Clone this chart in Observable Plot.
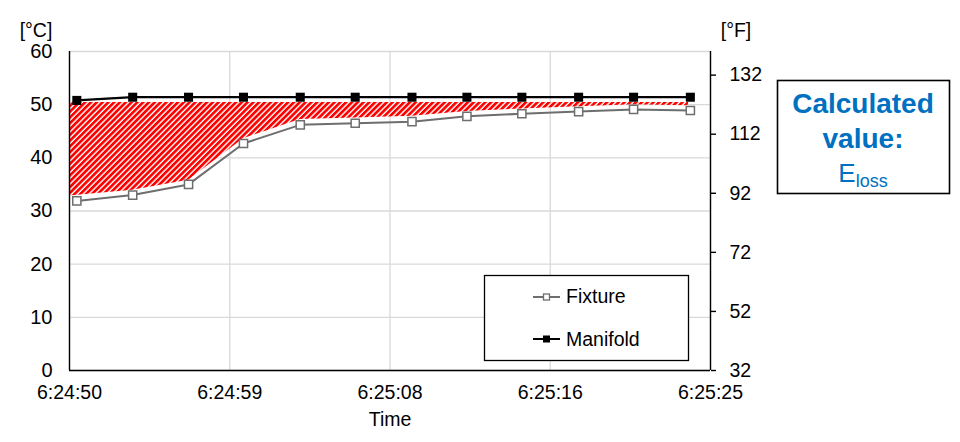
<!DOCTYPE html>
<html><head><meta charset="utf-8">
<script src="https://cdn.jsdelivr.net/npm/d3@7"></script>
<script src="https://cdn.jsdelivr.net/npm/@observablehq/plot@0.6"></script>
<style>
body{margin:0;background:#fff;font-family:"Liberation Sans",Arial,sans-serif;}
#wrap{position:relative;width:960px;height:442px;}
</style></head><body><div id="wrap"></div>
<script>
// seconds after 6:24:50
const times = [0.4, 3.45, 6.5, 9.5, 12.6, 15.6, 18.7, 21.7, 24.7, 27.8, 30.8, 33.9];
const fixture = [31.9, 33.0, 35.0, 42.7, 46.2, 46.5, 46.8, 47.8, 48.3, 48.7, 49.1, 48.9];
const manifold = [50.8, 51.4, 51.4, 51.4, 51.4, 51.4, 51.4, 51.4, 51.4, 51.4, 51.4, 51.4];
const hatchTimes = [0, 3.45, 6.5, 9.5, 12.6, 15.6, 18.7, 21.7, 24.7, 27.8, 30.8, 33.8];
const hatchLow = [32.8, 33.9, 35.8, 43.6, 47.2, 47.5, 47.8, 48.7, 49.2, 49.6, 50.0, 49.8];
const hatchHigh = [50.4, 50.4, 50.4, 50.4, 50.4, 50.4, 50.4, 50.4, 50.4, 50.4, 50.4, 50.4];
const yTicksC = [0, 10, 20, 30, 40, 50, 60];
const yTicksF = [32, 52, 72, 92, 112, 132];
const xTickPos = [0, 8.75, 17.5, 26.25, 35];
const xTickLabels = ["6:24:50", "6:24:59", "6:25:08", "6:25:16", "6:25:25"];
const seriesNames = ["Fixture", "Manifold"];

const pts = times.map((t, i) => ({t, fixture: fixture[i], manifold: manifold[i]}));
const hatch = hatchTimes.map((t, i) => ({t, lo: hatchLow[i], hi: hatchHigh[i]}));
const fToC = f => (f - 32) * 5 / 9;

const svg = Plot.plot({
  width: 960, height: 442,
  marginLeft: 69, marginRight: 250, marginTop: 51, marginBottom: 72,
  style: {fontFamily: '"Liberation Sans", Arial, sans-serif', fontSize: "19.5px", color: "#000", background: "#fff", overflow: "visible"},
  x: {domain: [0, 35]},
  y: {domain: [0, 60]},
  marks: [
    Plot.gridY(yTicksC, {stroke: "#d9d9d9", strokeOpacity: 1, strokeWidth: 1.3}),
    Plot.gridX(xTickPos, {stroke: "#d9d9d9", strokeOpacity: 1, strokeWidth: 1.3}),
    Plot.areaY(hatch, {x: "t", y1: "lo", y2: "hi", fill: "url(#hatch)"}),
    Plot.line(pts, {x: "t", y: "fixture", stroke: "#6e6e6e", strokeWidth: 2}),
    Plot.line(pts, {x: "t", y: "manifold", stroke: "#000", strokeWidth: 2.2}),
    Plot.dot(pts, {x: "t", y: "fixture", symbol: "square", r: 4.6, fill: "#fff", stroke: "#6e6e6e", strokeWidth: 1.5}),
    Plot.dot(pts, {x: "t", y: "manifold", symbol: "square", r: 5.1, fill: "#000"}),
    Plot.ruleX([0, 35], {stroke: "#000", strokeWidth: 1.4}),
    Plot.ruleY([0], {stroke: "#000", strokeWidth: 1.4}),
    Plot.axisY({anchor: "left", ticks: yTicksC, tickSize: 0, tickPadding: 17, label: null, fontSize: 20}),
    Plot.axisY({anchor: "right", ticks: yTicksF.map(fToC), tickFormat: (d, i) => String(yTicksF[i]), tickSize: 5, tickPadding: 14, label: null, strokeWidth: 1.4, fontSize: 19.5}),
    Plot.axisX({ticks: xTickPos, tickFormat: (d, i) => xTickLabels[i], tickSize: 0, tickPadding: 15, label: null, fontSize: 19.5})
  ]
});
document.getElementById("wrap").appendChild(svg);

const s = d3.select(svg);
const defs = s.insert("defs", ":first-child");
const pat = defs.append("pattern").attr("id", "hatch").attr("patternUnits", "userSpaceOnUse")
  .attr("width", 4.1).attr("height", 4.1).attr("patternTransform", "rotate(45)");
pat.append("rect").attr("width", 4.1).attr("height", 4.1).attr("fill", "#fff");
pat.append("rect").attr("width", 2.7).attr("height", 4.1).attr("fill", "#ff0000");

const font = '"Liberation Sans", Arial, sans-serif';
const txt = (x, y, str, opts = {}) => s.append("text").attr("x", x).attr("y", y)
  .attr("text-anchor", opts.anchor || "middle").attr("font-family", font)
  .attr("font-size", opts.size || 19.5).attr("font-weight", opts.weight || "normal")
  .attr("fill", opts.fill || "#000").text(str);

txt(36, 37, "[°C]");
txt(736, 37, "[°F]");
txt(390, 426, "Time");

// legend
s.append("rect").attr("x", 484.5).attr("y", 275.5).attr("width", 204).attr("height", 85)
  .attr("fill", "#fff").attr("stroke", "#000").attr("stroke-width", 1.3);
s.append("line").attr("x1", 533).attr("x2", 560).attr("y1", 297).attr("y2", 297).attr("stroke", "#6e6e6e").attr("stroke-width", 2);
s.append("rect").attr("x", 543.5).attr("y", 294).attr("width", 6).attr("height", 6).attr("fill", "#fff").attr("stroke", "#6e6e6e").attr("stroke-width", 1.3);
txt(566, 303, seriesNames[0], {anchor: "start"});
s.append("line").attr("x1", 533).attr("x2", 560).attr("y1", 339).attr("y2", 339).attr("stroke", "#000").attr("stroke-width", 2);
s.append("rect").attr("x", 543).attr("y", 335.5).attr("width", 7).attr("height", 7).attr("fill", "#000");
txt(566, 346, seriesNames[1], {anchor: "start"});

// calculated value box
s.append("rect").attr("x", 777.5).attr("y", 80.5).attr("width", 172).attr("height", 113)
  .attr("fill", "#fff").attr("stroke", "#000").attr("stroke-width", 1.6);
const blue = "#0070C0";
txt(863, 113, "Calculated", {size: 28, weight: "bold", fill: blue});
txt(863, 148, "value:", {size: 28, weight: "bold", fill: blue});
const e = s.append("text").attr("x", 863).attr("y", 182).attr("text-anchor", "middle")
  .attr("font-family", font).attr("fill", blue);
e.append("tspan").attr("font-size", 26).text("E");
e.append("tspan").attr("font-size", 18).attr("dy", 5).text("loss");
</script>
</body></html>
